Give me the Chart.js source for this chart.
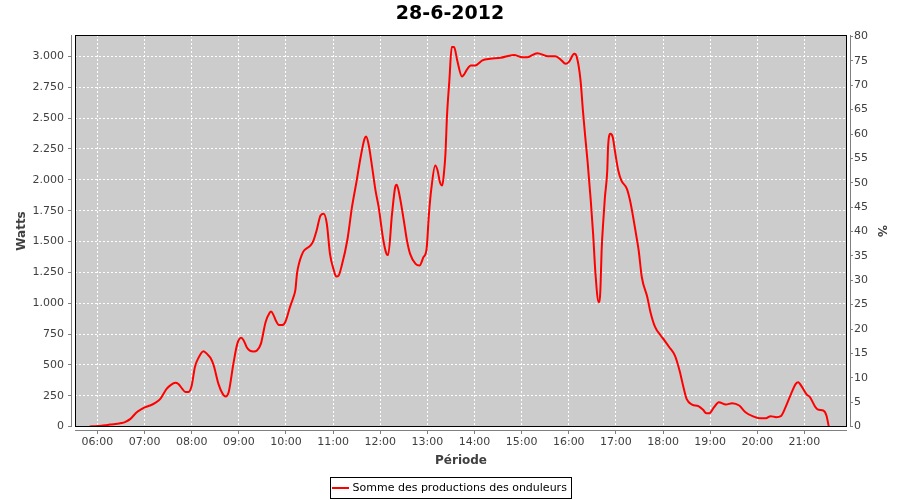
<!DOCTYPE html>
<html>
<head>
<meta charset="utf-8">
<script src="https://cdn.jsdelivr.net/npm/chart.js@4.4.1/dist/chart.umd.min.js"></script>
<style>
  html, body { margin: 0; padding: 0; background: #fff; }
</style>
</head>
<body>
<canvas id="prodChart" width="900" height="500"></canvas>
<script>
// production of 28-6-2012, sum of the inverters
const times = [
  '05:50', '05:55', '06:00', '06:05', '06:10', '06:16', '06:25', '06:31', '06:35', '06:42',
  '06:50', '06:56', '07:01', '07:07', '07:13', '07:20', '07:28', '07:34', '07:39', '07:43',
  '07:48', '07:52', '07:56', '08:00', '08:04', '08:09', '08:15', '08:20', '08:24', '08:28',
  '08:34', '08:39', '08:43', '08:47', '08:53', '08:58', '09:03', '09:06', '09:10', '09:14',
  '09:19', '09:23', '09:28', '09:34', '09:39', '09:41', '09:44', '09:47', '09:51', '09:55',
  '09:59', '10:05', '10:09', '10:12', '10:14', '10:17', '10:20', '10:23', '10:31', '10:35',
  '10:39', '10:44', '10:48', '10:52', '10:56', '11:01', '11:04', '11:07', '11:11', '11:18',
  '11:24', '11:30', '11:35', '11:40', '11:42', '11:45', '11:50', '11:54', '11:58', '12:04',
  '12:08', '12:10', '12:15', '12:19', '12:21', '12:25', '12:30', '12:34', '12:38', '12:45',
  '12:50', '12:55', '12:59', '13:02', '13:05', '13:10', '13:13', '13:16', '13:19', '13:21',
  '13:23', '13:25', '13:28', '13:31', '13:34', '13:38', '13:44', '13:51', '13:55', '14:01',
  '14:10', '14:20', '14:33', '14:50', '15:01', '15:07', '15:20', '15:33', '15:43', '15:50',
  '15:56', '16:00', '16:07', '16:10', '16:15', '16:18', '16:21', '16:24', '16:28', '16:31',
  '16:34', '16:38', '16:40', '16:42', '16:44', '16:46', '16:49', '16:50', '16:53', '16:56',
  '16:59', '17:03', '17:07', '17:14', '17:18', '17:22', '17:27', '17:29', '17:33', '17:40',
  '17:44', '17:50', '17:57', '18:02', '18:08', '18:15', '18:21', '18:26', '18:30', '18:37',
  '18:45', '18:51', '18:55', '18:59', '19:05', '19:11', '19:20', '19:28', '19:37', '19:45',
  '19:54', '20:03', '20:11', '20:17', '20:24', '20:30', '20:36', '20:43', '20:49', '20:52',
  '20:57', '21:03', '21:07', '21:14', '21:18', '21:24', '21:28', '21:31'
];
const watts = [
  0, 2, 4, 6, 10, 16, 22, 28, 36, 62,
  116, 140, 157, 170, 189, 224, 305, 340, 354, 345,
  305, 280, 280, 332, 481, 562, 611, 585, 555, 495,
  346, 270, 243, 278, 508, 670, 719, 700, 643, 615,
  608, 616, 670, 846, 920, 932, 905, 860, 822, 822,
  845, 967, 1040, 1110, 1240, 1332, 1390, 1427, 1467, 1508,
  1589, 1711, 1724, 1643, 1400, 1265, 1216, 1224, 1305, 1508,
  1778, 1994, 2183, 2333, 2351, 2292, 2089, 1913, 1778, 1508,
  1400, 1390, 1724, 1940, 1960, 1859, 1670, 1508, 1400, 1319,
  1305, 1373, 1441, 1724, 1927, 2116, 2076, 1981, 1954, 2049,
  2211, 2522, 2805, 3076, 3076, 2968, 2838, 2900, 2927, 2927,
  2968, 2981, 2989, 3013, 2994, 2994, 3027, 3003, 3003, 2973,
  2941, 2954, 3022, 3000, 2805, 2562, 2346, 2143, 1832, 1562,
  1238, 1008, 1076, 1454, 1670, 1859, 2076, 2265, 2373, 2346,
  2224, 2076, 1994, 1927, 1832, 1697, 1508, 1427, 1210, 1048,
  927, 805, 738, 697, 643, 576, 454, 319, 224, 178,
  165, 135, 108, 108, 157, 197, 178, 189, 170, 116,
  84, 67, 67, 84, 76, 84, 157, 265, 346, 359,
  319, 259, 238, 157, 135, 130, 89, 0
];
const seriesLabel = 'Somme des productions des onduleurs';
const chartTitle = '28-6-2012';

// axis ranges (minutes since midnight, watts, percent)
const xRange = [331.4, 1314.2];
const wattRange = [-4, 3174.3];
const pctRange = [-0.1026, 80.31];

const FONT = 'DejaVu Sans';
const toMin = t => { const p = t.split(':'); return +p[0] * 60 + +p[1]; };
const hhmm = v => String(Math.floor(v / 60)).padStart(2, '0') + ':' + String(v % 60).padStart(2, '0');
const thousands = v => String(v).replace(/\B(?=(\d{3})+(?!\d))/g, '.');

const plotFrame = {
  id: 'plotFrame',
  beforeDraw(chart) {
    const { ctx, chartArea: a } = chart;
    ctx.save();
    ctx.fillStyle = '#cccccc';
    ctx.fillRect(a.left, a.top, a.right - a.left, a.bottom - a.top);
    ctx.restore();
  },
  afterDraw(chart) {
    const { ctx, chartArea: a, scales } = chart;
    ctx.save();
    ctx.lineWidth = 1;
    ctx.strokeStyle = '#000';
    ctx.strokeRect(a.left + 0.5, a.top + 0.5, a.right - a.left - 1, a.bottom - a.top - 1);

    // detached grey axis lines with small outward ticks
    ctx.strokeStyle = '#808080';
    ctx.beginPath();
    ctx.moveTo(a.left - 3.5, a.top); ctx.lineTo(a.left - 3.5, a.bottom);
    ctx.moveTo(a.right + 3.5, a.top); ctx.lineTo(a.right + 3.5, a.bottom);
    ctx.moveTo(a.left, a.bottom + 3.5); ctx.lineTo(a.right, a.bottom + 3.5);
    scales.y.ticks.forEach(t => {
      const py = Math.round(scales.y.getPixelForValue(t.value) - 0.5) + 0.5;
      ctx.moveTo(a.left - 7, py); ctx.lineTo(a.left - 3.5, py);
    });
    scales.y2.ticks.forEach(t => {
      const py = Math.round(scales.y2.getPixelForValue(t.value) - 0.5) + 0.5;
      ctx.moveTo(a.right + 3.5, py); ctx.lineTo(a.right + 6, py);
    });
    scales.x.ticks.forEach(t => {
      const px = Math.round(scales.x.getPixelForValue(t.value) - 0.5) + 0.5;
      ctx.moveTo(px, a.bottom + 3.5); ctx.lineTo(px, a.bottom + 7);
    });
    ctx.stroke();

    // legend box under the axis title
    const ds = chart.data.datasets[0];
    ctx.font = '11px "' + FONT + '"';
    const tw = ctx.measureText(ds.label).width;
    const bw = Math.round(tw + 27);
    const bx = Math.round(chart.width / 2 - bw / 2) + 0.5;
    const by = 477.5;
    ctx.strokeStyle = '#000';
    ctx.strokeRect(bx, by, bw, 21);
    ctx.strokeStyle = ds.borderColor;
    ctx.lineWidth = 2;
    ctx.beginPath();
    ctx.moveTo(bx + 1.5, by + 10.5); ctx.lineTo(bx + 18.5, by + 10.5);
    ctx.stroke();
    ctx.fillStyle = '#000';
    ctx.textBaseline = 'middle';
    ctx.textAlign = 'left';
    ctx.fillText(ds.label, bx + 22, by + 11);
    ctx.restore();
  }
};

const ctx = document.getElementById('prodChart').getContext('2d');

new Chart(ctx, {
  type: 'line',
  data: {
    datasets: [{
      label: seriesLabel,
      data: times.map((t, i) => ({ x: toMin(t), y: watts[i] })),
      borderColor: '#ff0000',
      borderWidth: 2,
      pointRadius: 0,
      cubicInterpolationMode: 'monotone',
      fill: false,
      yAxisID: 'y'
    }]
  },
  options: {
    responsive: false,
    animation: false,
    devicePixelRatio: 1,
    layout: { padding: 0 },
    plugins: {
      legend: { display: false },
      tooltip: { enabled: false },
      title: {
        display: true,
        text: chartTitle,
        color: '#000',
        font: { family: FONT, size: 19, weight: 'bold', lineHeight: 1.2 },
        padding: { top: 3, bottom: 9.2 }
      }
    },
    scales: {
      x: {
        type: 'linear',
        min: xRange[0],
        max: xRange[1],
        afterFit: s => { s.height = 73; },
        grid: { color: '#ffffff', drawTicks: false },
        border: { display: false, dash: [2, 2] },
        ticks: {
          stepSize: 60, includeBounds: false, maxTicksLimit: 40, autoSkip: false,
          maxRotation: 0, padding: 9, color: '#404040',
          font: { family: FONT, size: 11 },
          callback: v => hhmm(v)
        },
        title: {
          display: true, text: 'Période', color: '#404040',
          font: { family: FONT, size: 12, weight: 'bold' },
          padding: { top: 0, bottom: 32 }
        }
      },
      y: {
        position: 'left',
        min: wattRange[0],
        max: wattRange[1],
        afterFit: s => { s.width = 75; },
        grid: { color: '#ffffff', drawTicks: false },
        border: { display: false, dash: [2, 2] },
        ticks: {
          stepSize: 250, includeBounds: false, maxTicksLimit: 40,
          padding: 11, color: '#404040',
          font: { family: FONT, size: 11 },
          callback: v => thousands(v)
        },
        title: {
          display: true, text: 'Watts', color: '#404040',
          font: { family: FONT, size: 12, weight: 'bold' },
          padding: { top: 15, bottom: 0 }
        }
      },
      y2: {
        position: 'right',
        min: pctRange[0],
        max: pctRange[1],
        afterFit: s => { s.width = 53; },
        grid: { display: false, drawTicks: false },
        border: { display: false },
        ticks: {
          stepSize: 5, includeBounds: false, maxTicksLimit: 40,
          padding: 7, color: '#404040',
          font: { family: FONT, size: 11 }
        },
        title: {
          display: true, text: '%', color: '#404040',
          font: { family: FONT, size: 12, weight: 'bold' },
          padding: { top: 12, bottom: 0 }
        }
      }
    }
  },
  plugins: [plotFrame]
});
</script>
</body>
</html>
